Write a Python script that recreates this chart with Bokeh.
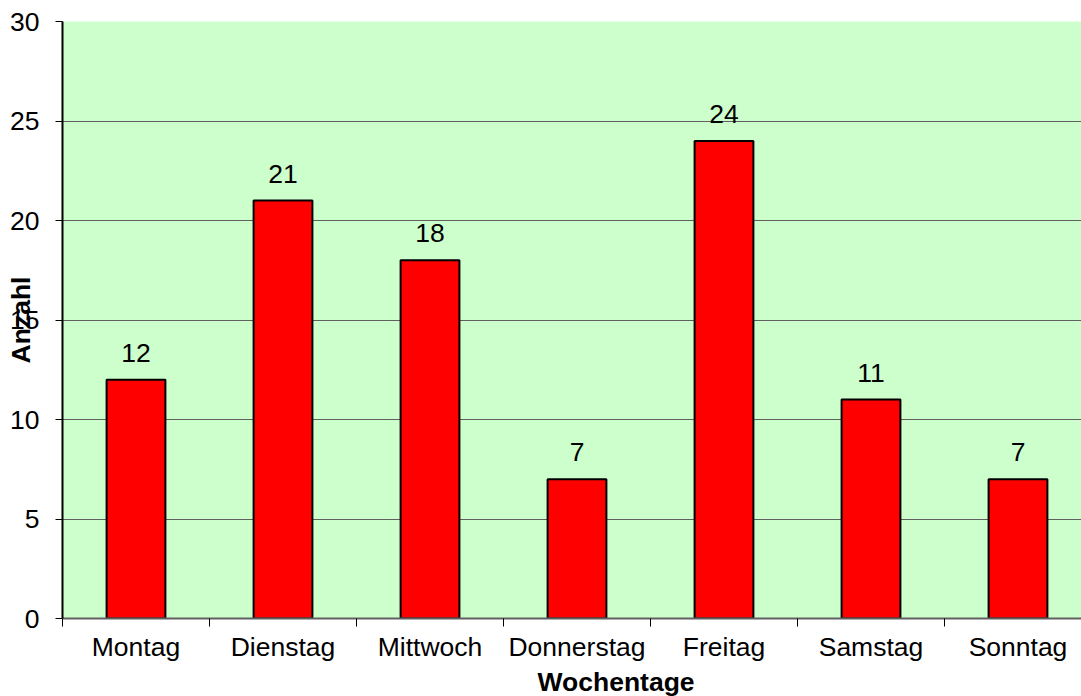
from bokeh.plotting import figure
from bokeh.models import (ColumnDataSource, Range1d, FixedTicker, LabelSet, Title,
                          CustomJSTickFormatter)
from bokeh.core.properties import value
from bokeh.embed import file_html
from bokeh.resources import INLINE

days = ["Montag", "Dienstag", "Mittwoch", "Donnerstag", "Freitag", "Samstag", "Sonntag"]
counts = [12, 21, 18, 7, 24, 11, 7]
y_ticks = [0, 5, 10, 15, 20, 25, 30]

FONT = "Liberation Sans"
FS = "26.5px"

src = ColumnDataSource(dict(
    x=[i + 0.5 for i in range(len(days))],
    top=counts,
    lab=[str(c) for c in counts],
))

p = figure(width=1081, height=696, output_backend="svg", toolbar_location=None,
           x_range=Range1d(0, 6.932), y_range=Range1d(0, 30),
           min_border_left=62, min_border_right=0, min_border_top=21, min_border_bottom=0)
p.background_fill_color = "#CCFFCC"
p.border_fill_color = "white"
p.outline_line_color = None

p.vbar(x="x", top="top", width=0.4, bottom=0, source=src,
       fill_color="#FF0000", line_color="black", line_width=2)

p.add_layout(LabelSet(x="x", y="top", text="lab", source=src, y_offset=27,
                      text_align="center", text_baseline="middle",
                      text_font=value(FONT), text_font_size=FS, text_color="black"))

# grid
p.xgrid.grid_line_color = None
p.ygrid.ticker = FixedTicker(ticks=y_ticks)
p.ygrid.grid_line_color = "#606060"
p.ygrid.grid_line_width = 1

# y axis
p.yaxis.ticker = FixedTicker(ticks=y_ticks)
p.yaxis.axis_line_color = "black"
p.yaxis.axis_line_width = 2
p.yaxis.major_tick_in = 0
p.yaxis.major_tick_out = 7
p.yaxis.major_tick_line_color = "black"
p.yaxis.minor_tick_line_color = None
p.yaxis.major_label_standoff = 16
p.yaxis.major_label_text_font = FONT
p.yaxis.major_label_text_font_size = FS
p.yaxis.major_label_text_color = "black"
p.yaxis.axis_label = "Anzahl"
p.yaxis.axis_label_standoff = -29
p.yaxis.axis_label_text_font = FONT
p.yaxis.axis_label_text_font_size = FS
p.yaxis.axis_label_text_font_style = "bold"
p.yaxis.axis_label_text_color = "black"

# x axis: labels at category centres, tick marks between categories
p.xaxis.ticker = FixedTicker(ticks=[i + 0.5 for i in range(len(days))],
                             minor_ticks=list(range(len(days) + 1)))
p.xaxis.formatter = CustomJSTickFormatter(args=dict(names=days),
                                          code="return names[Math.floor(tick)];")
p.xaxis.axis_line_color = "#606060"
p.xaxis.axis_line_width = 2
p.xaxis.major_tick_line_color = None
p.xaxis.major_tick_in = 0
p.xaxis.major_tick_out = 0
p.xaxis.minor_tick_in = 0
p.xaxis.minor_tick_out = 8
p.xaxis.minor_tick_line_color = "black"
p.xaxis.major_label_standoff = 5
p.xaxis.major_label_text_font = FONT
p.xaxis.major_label_text_font_size = FS
p.xaxis.major_label_text_color = "black"

# x axis title, shifted right like the original
p.add_layout(Title(text="Wochentage", align="left", offset=475, standoff=0,
                   text_font=FONT, text_font_size=FS, text_font_style="bold",
                   text_color="black"), "below")

open("out.html", "w").write(file_html(p, INLINE))
